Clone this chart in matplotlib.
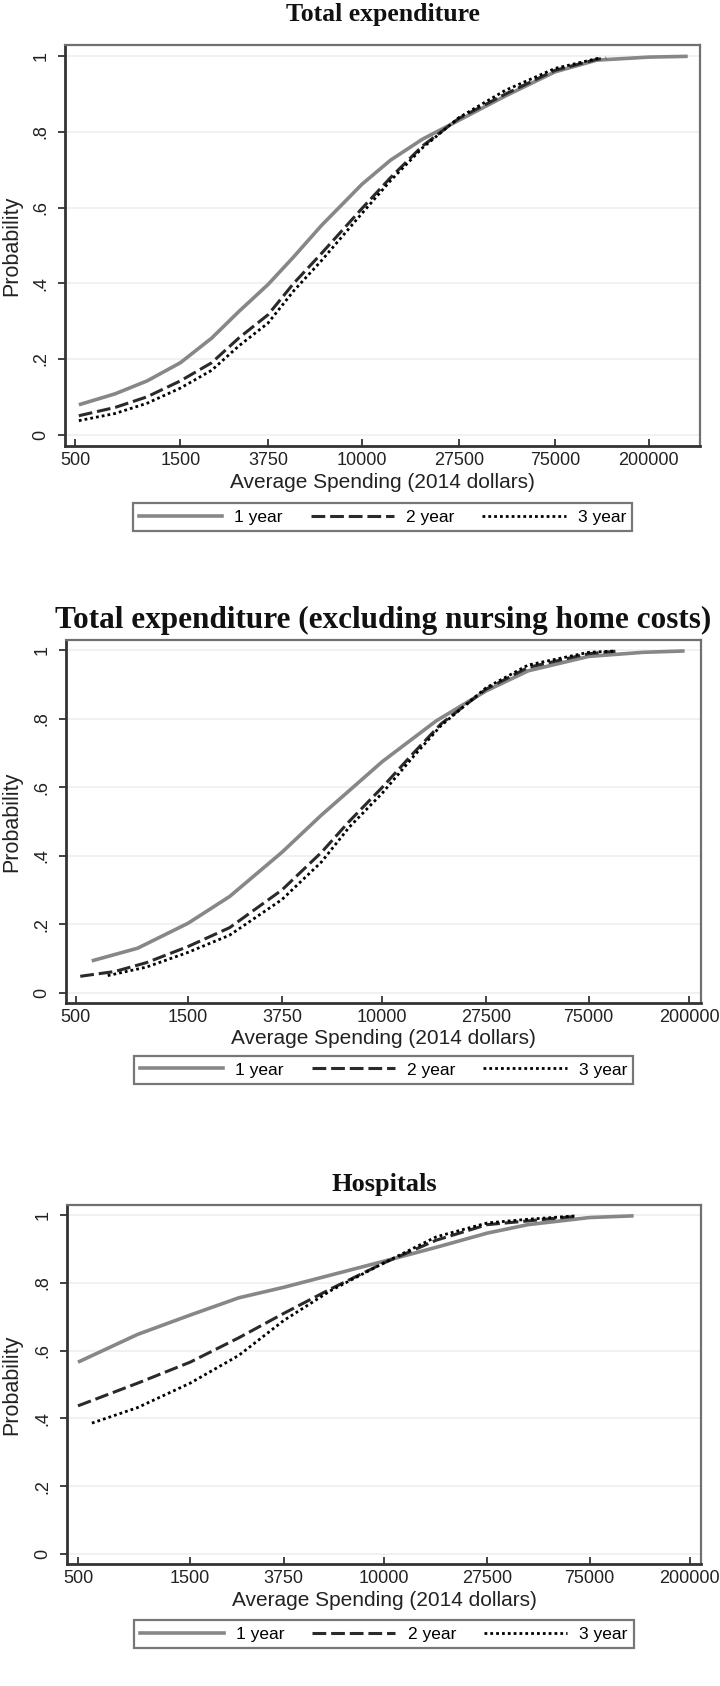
import matplotlib
matplotlib.use("Agg")
import matplotlib.pyplot as plt
from matplotlib.lines import Line2D
from matplotlib.ticker import NullLocator, FixedLocator, FixedFormatter

W, H = 720, 1686

# ---------------- data ----------------
titles = ["Total expenditure",
          "Total expenditure (excluding nursing home costs)",
          "Hospitals"]
series_labels = ["1 year", "2 year", "3 year"]
x_ticks = [500, 1500, 3750, 10000, 27500, 75000, 200000]
x_tick_labels = ["500", "1500", "3750", "10000", "27500", "75000", "200000"]
y_ticks = [0, 0.2, 0.4, 0.6, 0.8, 1.0]
y_tick_labels = ["0", ".2", ".4", ".6", ".8", "1"]
x_label = "Average Spending (2014 dollars)"
y_label = "Probability"

# Panel 1: Total expenditure
p1_x1 = [520, 760, 1060, 1500, 2080, 2770, 3750, 4900, 6550, 10000, 13500,
         18800, 27500, 44600, 75000, 116000, 200000, 300000]
p1_y1 = [0.079, 0.108, 0.142, 0.19, 0.255, 0.326, 0.397, 0.47, 0.553, 0.662,
         0.726, 0.781, 0.831, 0.895, 0.959, 0.99, 0.998, 1.0]
p1_x2 = [520, 760, 1060, 1500, 2080, 2770, 3750, 4900, 6550, 10000, 13500,
         18800, 27500, 44600, 75000, 116000, 128000]
p1_y2 = [0.05, 0.072, 0.10, 0.142, 0.19, 0.256, 0.317, 0.40, 0.479, 0.598,
         0.68, 0.763, 0.836, 0.90, 0.963, 0.992, 0.996]
p1_x3 = [520, 760, 1060, 1500, 2080, 2770, 3750, 4900, 6550, 10000, 13500,
         18800, 27500, 44600, 75000, 120000]
p1_y3 = [0.037, 0.056, 0.083, 0.123, 0.17, 0.235, 0.295, 0.38, 0.46, 0.585,
         0.672, 0.758, 0.838, 0.91, 0.968, 0.996]

# Panel 2: Total expenditure excluding nursing home costs
p2_x1 = [585, 916, 1500, 2250, 3750, 5520, 10000, 16940, 27500, 41600,
         75000, 127600, 191600]
p2_y1 = [0.093, 0.13, 0.203, 0.281, 0.41, 0.519, 0.675, 0.794, 0.881, 0.94,
         0.982, 0.994, 0.998]
p2_x2 = [523, 733, 1000, 1500, 2250, 3750, 5520, 7230, 10000, 13560, 17740,
         27500, 41600, 75000, 97500]
p2_y2 = [0.048, 0.062, 0.088, 0.135, 0.19, 0.30, 0.41, 0.50, 0.60, 0.70,
         0.785, 0.886, 0.95, 0.99, 0.997]
p2_x3 = [684, 1000, 1500, 2250, 3750, 5520, 7230, 10000, 13560, 17740, 27500,
         41600, 75000, 97500]
p2_y3 = [0.05, 0.075, 0.118, 0.168, 0.272, 0.382, 0.483, 0.583, 0.69,
         0.78, 0.89, 0.957, 0.994, 0.998]

# Panel 3: Hospitals
p3_x1 = [500, 897, 1500, 2415, 3750, 5930, 10000, 16680, 27500, 41000,
         75000, 115300]
p3_y1 = [0.566, 0.648, 0.705, 0.756, 0.787, 0.823, 0.864, 0.905, 0.947,
         0.972, 0.993, 0.998]
p3_x2 = [500, 897, 1500, 2415, 3750, 5930, 10000, 16680, 27500, 41000, 64300]
p3_y2 = [0.437, 0.504, 0.566, 0.638, 0.71, 0.782, 0.859, 0.926, 0.972,
         0.983, 0.996]
p3_x3 = [573, 897, 1500, 2415, 3750, 5930, 10000, 16680, 27500, 41000, 65800]
p3_y3 = [0.386, 0.432, 0.504, 0.586, 0.689, 0.777, 0.859, 0.936, 0.977,
         0.988, 0.998]

# ---------------- layout (pixels) ----------------
panels = [
    dict(title=titles[0], data=[(p1_x1, p1_y1), (p1_x2, p1_y2), (p1_x3, p1_y3)],
         box=(65, 45, 700, 446), xlim=(450, 341000), title_y=14, title_size=18.5,
         xlabel_y=483, legend_y=517),
    dict(title=titles[1], data=[(p2_x1, p2_y1), (p2_x2, p2_y2), (p2_x3, p2_y3)],
         box=(66, 640, 701, 1003), xlim=(455, 224900), title_y=620, title_size=22.5,
         xlabel_y=1038, legend_y=1070),
    dict(title=titles[2], data=[(p3_x1, p3_y1), (p3_x2, p3_y2), (p3_x3, p3_y3)],
         box=(67, 1205, 701, 1564), xlim=(449, 223000), title_y=1185, title_size=19,
         xlabel_y=1601, legend_y=1634),
]

styles = [
    dict(color="#878787", lw=2.6, ls="-"),
    dict(color="#2a2a2a", lw=2.2, ls=(0, (4.5, 1.6))),
    dict(color="#000000", lw=2.0, ls=(0, (1, 1.1))),
]

sans = "Liberation Sans"
serif = "Liberation Serif"

fig = plt.figure(figsize=(W / 100, H / 100), dpi=100)
fig.patch.set_facecolor("white")

for p in panels:
    l, t, r, b = p["box"]
    ax = fig.add_axes([l / W, 1 - b / H, (r - l) / W, (b - t) / H])
    ax.set_xscale("log")
    ax.set_xlim(*p["xlim"])
    ax.set_ylim(-0.03, 1.03)
    for y in y_ticks:
        ax.axhline(y, color="#efefef", lw=1.2, zorder=0)
    for (xs, ys), st in zip(p["data"], styles):
        ax.plot(xs, ys, color=st["color"], lw=st["lw"], ls=st["ls"],
                solid_capstyle="butt", dash_capstyle="butt", zorder=3)
    ax.xaxis.set_major_locator(FixedLocator(x_ticks))
    ax.xaxis.set_major_formatter(FixedFormatter(x_tick_labels))
    ax.xaxis.set_minor_locator(NullLocator())
    ax.set_yticks(y_ticks)
    ax.set_yticklabels(y_tick_labels)
    ax.tick_params(axis="x", direction="in", length=5, width=1.3,
                   color="#333333", labelsize=13, pad=4.5, labelcolor="#222222")
    ax.tick_params(axis="y", direction="out", length=5, width=1.3,
                   color="#333333", labelsize=13, pad=6, labelcolor="#222222")
    for lab in ax.get_xticklabels() + ax.get_yticklabels():
        lab.set_fontfamily(sans)
    for lab in ax.get_yticklabels():
        lab.set_rotation(90)
        lab.set_va("center")
    ax.spines["left"].set_color("#333333")
    ax.spines["bottom"].set_color("#333333")
    ax.spines["left"].set_linewidth(2.0)
    ax.spines["bottom"].set_linewidth(2.0)
    ax.spines["top"].set_color("#707070")
    ax.spines["right"].set_color("#707070")
    ax.spines["top"].set_linewidth(1.6)
    ax.spines["right"].set_linewidth(1.6)

    cx = (l + r) / 2
    fig.text(cx / W, 1 - p["title_y"] / H, p["title"], ha="center", va="center",
             fontsize=p["title_size"], fontweight="bold", family=serif, color="#111111")
    fig.text(cx / W, 1 - p["xlabel_y"] / H, x_label, ha="center", va="center",
             fontsize=15, family=sans, color="#222222")
    fig.text(12 / W, 1 - ((t + b) / 2) / H, y_label, ha="center", va="center",
             rotation=90, fontsize=15.5, family=sans, color="#222222")

    handles = [Line2D([0], [0], color=st["color"], lw=st["lw"], ls=st["ls"])
               for st in styles]
    leg = ax.legend(handles, series_labels, loc="center",
                    bbox_to_anchor=(cx / W, 1 - p["legend_y"] / H),
                    bbox_transform=fig.transFigure, ncol=3, frameon=True,
                    fancybox=False, edgecolor="#555555",
                    handlelength=4.8, columnspacing=1.6, handletextpad=0.7,
                    borderpad=0.35, prop={"family": sans, "size": 12.5})
    leg.get_frame().set_linewidth(1.6)

fig.savefig("out.png", dpi=100, facecolor="white")
